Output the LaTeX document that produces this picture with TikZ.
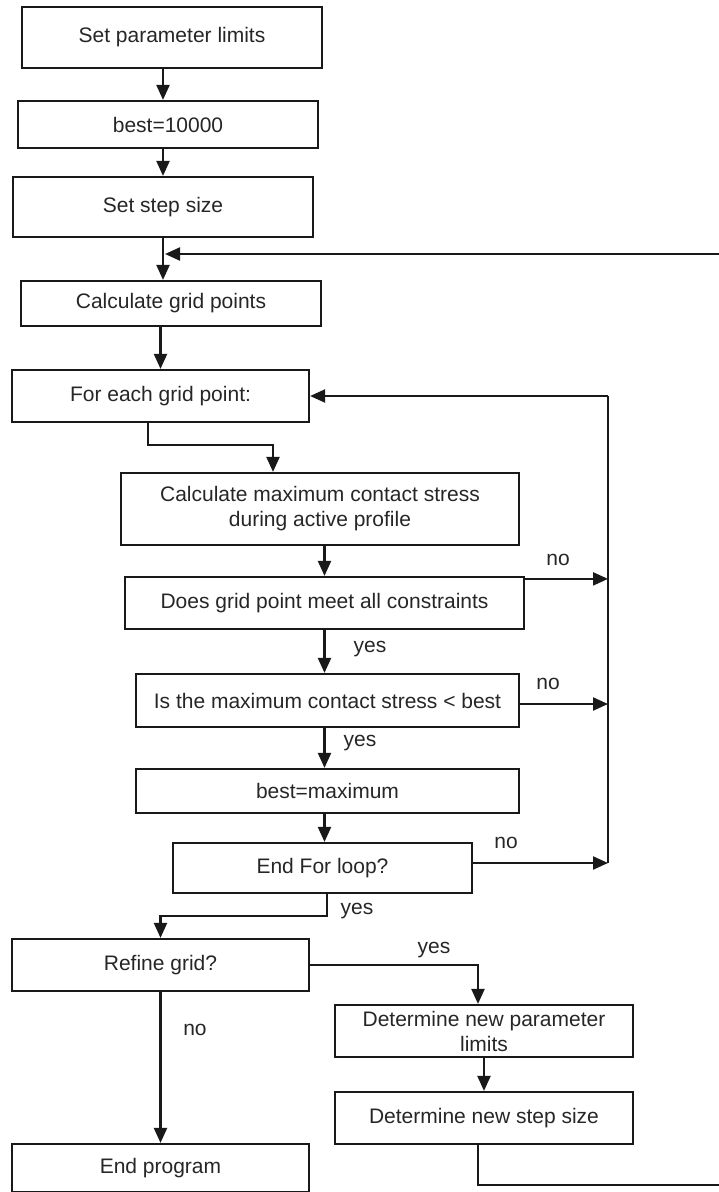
\documentclass[tikz,border=0pt]{standalone}
\usepackage{fontspec}
\setmainfont{Liberation Sans}
\usetikzlibrary{arrows.meta,calc}
\begin{document}
\begin{tikzpicture}[x=1pt,y=-1pt,
  box/.style={draw=black!90, line width=2.2pt, inner sep=0pt, align=center,
    font=\fontsize{21}{25}\selectfont, text=black!85},
  lbl/.style={font=\fontsize{21}{25}\selectfont, text=black!85, inner sep=0pt},
  arr/.style={draw=black!90, line width=2.2pt, -{Triangle[length=15pt,width=13pt]}},
  ln/.style={draw=black!90, line width=2.2pt}]
\useasboundingbox (0,0) rectangle (719,1192);
\clip (0,0) rectangle (719,1192);
% nodes
\node[box, minimum width=300pt, minimum height=61pt] (b1) at (172,37.5) {Set parameter limits};
\node[box, minimum width=300pt, minimum height=47pt] (b2) at (168,124.5) {best=10000};
\node[box, minimum width=300pt, minimum height=60pt] (b3) at (163,207) {Set step size};
\node[box, minimum width=300pt, minimum height=45pt] (b4) at (171,303.5) {Calculate grid points};
\node[box, minimum width=297pt, minimum height=52pt] (b5) at (160.5,396) {For each grid point:};
\node[box, minimum width=398pt, minimum height=72pt] (calc) at (320,509) {Calculate maximum contact stress\\during active profile};
\node[box, minimum width=399pt, minimum height=52pt] (does) at (324.5,603) {Does grid point meet all constraints};
\node[box, minimum width=383pt, minimum height=53pt] (is) at (327.5,700.5) {Is the maximum contact stress {\textless} best};
\node[box, minimum width=383pt, minimum height=44pt] (bm) at (327.5,791) {best=maximum};
\node[box, minimum width=299pt, minimum height=50pt] (el) at (322.5,868) {End For loop?};
\node[box, minimum width=297pt, minimum height=52pt] (ref) at (160.5,965) {Refine grid?};
\node[box, minimum width=297pt, minimum height=48pt] (ep) at (160.5,1168) {End program};
\node[box, minimum width=298pt, minimum height=52pt] (det1) at (484,1031) {Determine new parameter\\limits};
\node[box, minimum width=298pt, minimum height=52pt] (det2) at (484,1118) {Determine new step size};
% labels
\node[lbl] (l1) at (558,560) {no};
\node[lbl] (l2) at (370,649) {yes};
\node[lbl] (l3) at (548,684) {no};
\node[lbl] (l4) at (360,743) {yes};
\node[lbl] (l5) at (506,843) {no};
\node[lbl] (l6) at (357,911) {yes};
\node[lbl] (l7) at (434,950) {yes};
\node[lbl] (l8) at (195,1030) {no};
% coordinates
\coordinate (j) at (165,254);
\coordinate (r1) at (608,396);
\coordinate (dn) at ([yshift=-3pt]does.north east);
\coordinate (in) at ([yshift=-3.5pt]is.east);
\coordinate (en) at ([yshift=5pt]el.east);
\coordinate (far) at (740,254);
% connectors
\draw[arr] (b1.south -| b3.center) -- (b2.north -| b3.center);
\draw[arr] (b2.south -| b3.center) -- (b3.north);
\draw[arr] (b3.south) -- (b4.north -| b3.south);
\draw[arr] (b5.north |- b4.south) -- (b5.north);
\draw[arr] ([xshift=-12.5pt]b5.south) -- ++(0,22) -| ([xshift=-47pt]calc.north);
\draw[arr] (calc.south -| does.center) -- (does.north);
\draw[arr] (does.south) -- (is.north -| does.south);
\draw[arr] (is.south -| does.south) -- (bm.north -| does.south);
\draw[arr] (bm.south -| does.south) -- (el.north -| does.south);
\draw[ln] (r1) -- (en -| r1);
\draw[arr] (r1) -- (b5.east |- r1);
\draw[arr] (dn) -- (dn -| r1);
\draw[arr] (in) -- (in -| r1);
\draw[arr] (en) -- (en -| r1);
\draw[arr] ([xshift=4.5pt]el.south) -- ++(0,22) -| (ref.north);
\draw[arr] (ref.south) -- (ep.north);
\draw[arr] (ref.east) -| ([xshift=-6pt]det1.north);
\draw[arr] (det1.south) -- (det2.north);
\draw[arr] ([xshift=-6pt]det2.south) -- ++(0,40) -| (far) -- (j);
\end{tikzpicture}
\end{document}
